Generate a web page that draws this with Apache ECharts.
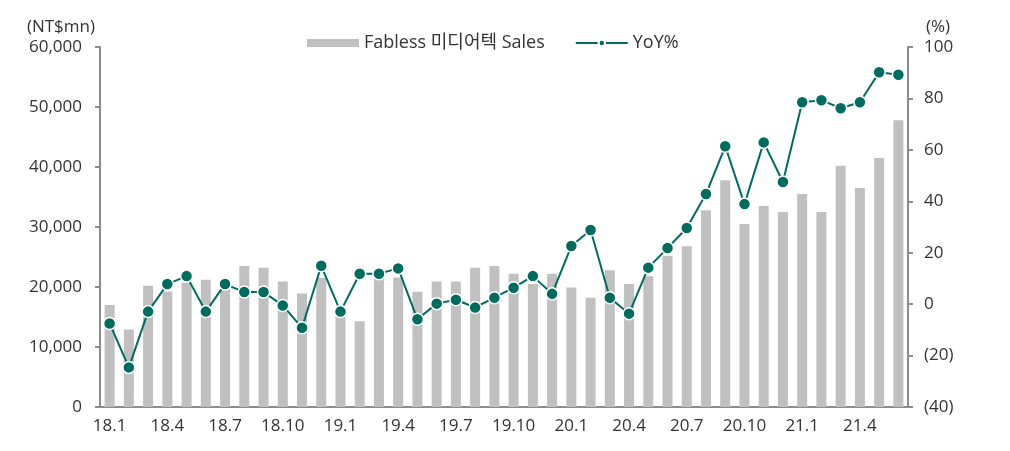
<!DOCTYPE html>
<html>
<head>
<meta charset="utf-8">
<script src="https://cdn.jsdelivr.net/npm/echarts@6/dist/echarts.min.js"></script>
<style>
  html, body { margin: 0; padding: 0; background: #fff; }
  #main { width: 1010px; height: 451px; }
</style>
</head>
<body>
<div id="main"></div>
<script>
// monthly categories 18.1 .. 21.6
var months = [
  '18.1', '18.2', '18.3', '18.4', '18.5', '18.6', '18.7', '18.8', '18.9', '18.10', '18.11', '18.12',
  '19.1', '19.2', '19.3', '19.4', '19.5', '19.6', '19.7', '19.8', '19.9', '19.10', '19.11', '19.12',
  '20.1', '20.2', '20.3', '20.4', '20.5', '20.6', '20.7', '20.8', '20.9', '20.10', '20.11', '20.12',
  '21.1', '21.2', '21.3', '21.4', '21.5', '21.6'
];
// sales, NT$mn
var sales = [
  17000, 12900, 20200, 19200, 20700, 21200, 19800, 23500, 23200, 20900, 18900, 21500,
  16000, 14300, 21700, 21600, 19200, 20900, 20900, 23200, 23500, 22200, 20500, 22200,
  19900, 18200, 22800, 20500, 21800, 25200, 26800, 32800, 37800, 30500, 33500, 32500,
  35500, 32500, 40200, 36500, 41500, 47800
];
// YoY, %
var yoy = [
  -7.5, -24.6, -2.9, 7.8, 10.9, -2.9, 7.8, 4.7, 4.7, -0.5, -9.2, 14.9,
  -2.9, 11.8, 11.8, 13.9, -5.9, 0.2, 1.7, -1.3, 2.5, 6.4, 10.9, 4.0,
  22.6, 28.8, 2.5, -3.7, 14.2, 21.8, 29.6, 42.8, 61.4, 38.9, 62.9, 47.5,
  78.5, 79.3, 76.2, 78.5, 90.2, 89.2
];

var textColor = '#333333';
var axisColor = '#8c8c8c';
var fontFamily = '"Open Sans", "Noto Sans CJK KR", sans-serif';

var myChart = echarts.init(document.getElementById('main'));

var option = {
  animation: false,
  textStyle: { fontFamily: fontFamily },
  legend: {
    top: 29,
    left: 302,
    itemGap: 30,
    itemWidth: 52,
    itemHeight: 8,
    textStyle: { fontSize: 18, color: textColor, fontFamily: fontFamily },
    data: [
      { name: 'Fabless 미디어텍 Sales', icon: 'rect' },
      { name: 'YoY%' }
    ]
  },
  grid: { left: 100, right: 102, top: 47, bottom: 44 },
  xAxis: {
    type: 'category',
    data: months,
    axisLine: { lineStyle: { color: axisColor, width: 2 } },
    axisTick: { interval: 2, length: 5, lineStyle: { color: axisColor, width: 2 } },
    axisLabel: { interval: 2, fontSize: 17, color: textColor, margin: 11 }
  },
  yAxis: [
    {
      type: 'value',
      min: 0,
      max: 60000,
      interval: 10000,
      name: '(NT$mn)',
      nameGap: 11,
      nameTextStyle: { fontSize: 17, color: textColor, align: 'right', padding: [0, 5, 0, 0] },
      axisLine: { show: true, lineStyle: { color: axisColor, width: 2 } },
      axisTick: { show: true, length: 5, lineStyle: { color: axisColor, width: 2 } },
      splitLine: { show: false },
      axisLabel: {
        fontSize: 17,
        color: textColor,
        margin: 18,
        formatter: function (v) { return v.toLocaleString('en-US'); }
      }
    },
    {
      type: 'value',
      min: -40,
      max: 100,
      interval: 20,
      name: '(%)',
      nameGap: 11,
      nameTextStyle: { fontSize: 17, color: textColor, align: 'left', padding: [0, 0, 0, 18] },
      axisLine: { show: true, lineStyle: { color: axisColor, width: 2 } },
      axisTick: { show: true, length: 5, lineStyle: { color: axisColor, width: 2 } },
      splitLine: { show: false },
      axisLabel: {
        fontSize: 17,
        color: textColor,
        margin: 16,
        formatter: function (v) { return v < 0 ? '(' + Math.abs(v) + ')' : String(v); }
      }
    }
  ],
  series: [
    {
      name: 'Fabless 미디어텍 Sales',
      type: 'bar',
      barWidth: 10,
      itemStyle: { color: '#c0c0c0' },
      data: sales
    },
    {
      name: 'YoY%',
      type: 'line',
      yAxisIndex: 1,
      symbol: 'circle',
      symbolSize: 12,
      lineStyle: { color: '#006b5e', width: 2 },
      itemStyle: { color: '#006b5e', borderColor: '#ffffff', borderWidth: 1.5 },
      data: yoy
    }
  ]
};

myChart.setOption(option);
</script>
</body>
</html>
